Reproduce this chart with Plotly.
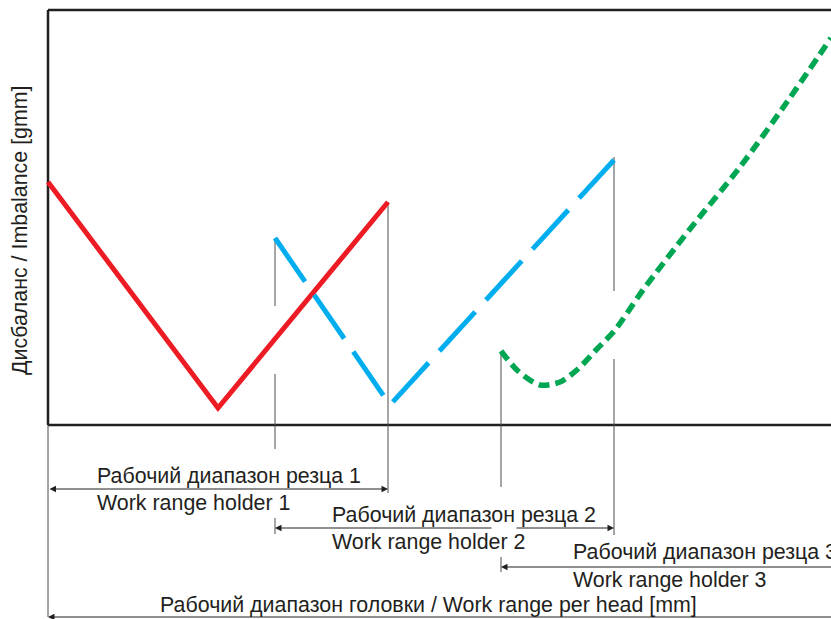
import plotly.graph_objects as go

# Imbalance curves along the head, one per tool holder (x: position, y: imbalance)
red_x = [0, 170, 340]
red_y = [243, 17, 223]

blue_x = [227, 342, 566]
blue_y = [187, 20, 265]

green_x = [453, 470, 492, 512, 530, 548, 567, 595, 642, 692, 739, 783]
green_y = [74, 54, 40, 43, 56, 75, 95, 135, 196, 258, 323, 387]

# Work ranges (start, end) of each holder and of the whole head
holder_ranges = [(0, 340), (227, 566), (453, 783)]
head_range = (0, 783)

labels_ru = ["Рабочий диапазон резца 1", "Рабочий диапазон резца 2", "Рабочий диапазон резца 3"]
labels_en = ["Work range holder 1", "Work range holder 2", "Work range holder 3"]
head_label = "Рабочий диапазон головки / Work range per head [mm]"
y_title = "Дисбаланс / Imbalance [gmm]"

INK = "#231f20"
THIN = "#4d4d4f"
FONT = dict(family="Liberation Sans, Arial, Helvetica, sans-serif", size=21.4, color=INK)

X_MIN, X_MAX = -2, 783
Y_TOP, Y_BOTTOM = 417, -194
arrow_y = [-64, -103, -142]
head_arrow_y = -192

fig = go.Figure()

fig.add_trace(go.Scatter(x=red_x, y=red_y, mode="lines",
                         line=dict(color="#ed1c24", width=5)))
fig.add_trace(go.Scatter(x=blue_x, y=blue_y, mode="lines",
                         line=dict(color="#00aeef", width=5, dash="53px,16px")))
fig.add_trace(go.Scatter(x=green_x, y=green_y, mode="lines",
                         line=dict(color="#00a651", width=5.5, dash="11px,6px",
                                   shape="spline", smoothing=0.8)))

shapes = []

def seg(x0, y0, x1, y1, color=THIN, width=1):
    shapes.append(dict(type="line", xref="x", yref="y", x0=x0, y0=y0, x1=x1, y1=y1,
                       line=dict(color=color, width=width), layer="below"))

# chart frame: top edge, left edge and base line
seg(0, 415, X_MAX + 5, 415, INK, 2.5)
seg(0, 415, 0, 0, INK, 2.5)
seg(0, 0, X_MAX + 5, 0, INK, 2.5)
seg(0, 0, 0, head_arrow_y, THIN, 1)

# extension lines from the curve ends down to the dimension arrows
h1, h2, h3 = holder_ranges
seg(h1[1], red_y[-1], h1[1], arrow_y[0] - 4)
seg(h2[0], blue_y[0], h2[0], 119)
seg(h2[0], 51, h2[0], -24)
seg(h2[0], arrow_y[1] + 10, h2[0], arrow_y[1] - 6)
seg(h2[1], 268, h2[1], 134)
seg(h2[1], 66, h2[1], arrow_y[1] - 7)
seg(h3[0], green_y[0], h3[0], -62)
seg(h3[0], arrow_y[2] + 10, h3[0], arrow_y[2] - 5)

annotations = []

def arrow(x_head, x_tail, y, both=False):
    annotations.append(dict(x=x_head, y=y, ax=x_tail, ay=y, xref="x", yref="y",
                            axref="x", ayref="y", text="", showarrow=True,
                            arrowhead=2, arrowsize=1.3, arrowwidth=1,
                            arrowcolor=INK, standoff=0, startstandoff=0,
                            arrowside="end+start" if both else "end"))

def label(x, y, text):
    annotations.append(dict(x=x, y=y, xref="x", yref="y", text=text, showarrow=False,
                            xanchor="left", yanchor="middle", font=FONT))

# holder 1: double arrow
arrow(h1[1], h1[0], arrow_y[0], both=True)
# holder 2: arrow broken where the holder-3 extension line passes
arrow(h2[0], h3[0] - 8, arrow_y[1])
arrow(h2[1], h3[0] + 14, arrow_y[1])
# holder 3 and head run past the right edge
arrow(h3[0], h3[1] + 10, arrow_y[2])
arrow(head_range[0], head_range[1] + 10, head_arrow_y)

label(47, -51, labels_ru[0])
label(47, -78, labels_en[0])
label(282, -90, labels_ru[1])
label(282, -117, labels_en[1])
label(523, -127, labels_ru[2])
label(523, -155, labels_en[2])
label(110, -180, head_label)

annotations.append(dict(x=0, y=195, xref="x", yref="y", xshift=-28, text=y_title,
                        textangle=-90, showarrow=False, xanchor="center",
                        yanchor="middle", font=FONT))

fig.update_layout(
    width=831, height=619,
    margin=dict(l=46, r=0, t=8, b=0),
    paper_bgcolor="white", plot_bgcolor="white",
    showlegend=False,
    shapes=shapes, annotations=annotations,
    xaxis=dict(range=[X_MIN, X_MAX], visible=False, fixedrange=True),
    yaxis=dict(range=[Y_BOTTOM, Y_TOP], visible=False, fixedrange=True),
)

fig.write_html("out.html")
